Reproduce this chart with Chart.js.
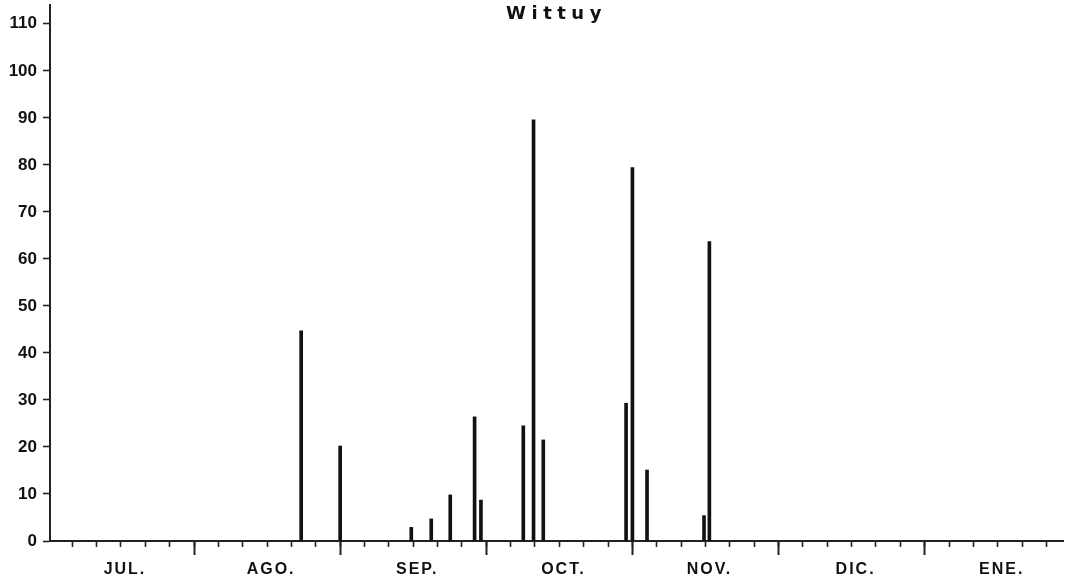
<!DOCTYPE html>
<html>
<head>
<meta charset="utf-8">
<script src="https://cdn.jsdelivr.net/npm/chart.js@4/dist/chart.umd.min.js"></script>
<style>
  html, body { margin: 0; padding: 0; background: #fff; }
  #wrap { width: 1074px; height: 580px; position: relative; }
</style>
</head>
<body>
<div id="wrap"><canvas id="c"></canvas></div>
<script>
// Day of season (from 1 July, 30-day month units) for each rain event
const eventDays = [52.0, 60.0, 74.6, 78.7, 82.6, 87.6, 88.9, 97.6, 99.7, 101.7, 118.7, 120.0, 123.0, 134.7, 135.8];
// Rainfall (mm)
const rainfall = [44.7, 20.2, 2.9, 4.7, 9.8, 26.4, 8.7, 24.5, 89.6, 21.5, 29.3, 79.4, 15.1, 5.4, 63.7];
// Month labels
const monthLabels = ['JUL.', 'AGO.', 'SEP.', 'OCT.', 'NOV.', 'DIC.', 'ENE.'];
const yTickValues = [0, 10, 20, 30, 40, 50, 60, 70, 80, 90, 100, 110];
const chartTitle = 'Wittuy';

const points = eventDays.map((d, i) => ({ x: d, y: rainfall[i] }));

const spacingPlugin = {
  id: 'spacing',
  beforeDraw(chart) {
    chart.ctx.letterSpacing = '0px';
    const sx = chart.scales.x;
    if (sx && !sx._spaced) {
      const orig = sx.drawLabels;
      sx.drawLabels = function (a) {
        this.ctx.save();
        this.ctx.letterSpacing = '2px';
        this.ctx.translate(4, 0);
        orig.call(this, a);
        this.ctx.restore();
      };
      sx._spaced = true;
    }
    const tb = chart.titleBlock;
    if (tb && !tb._spaced) {
      const origT = tb.draw;
      tb.draw = function (a) {
        this.ctx.save();
        this.ctx.letterSpacing = '5.5px';
        origT.call(this, a);
        this.ctx.restore();
      };
      tb._spaced = true;
    }
  }
};

const X_MIN = 0.43, X_MAX = 208.4;

new Chart(document.getElementById('c'), {
  type: 'bar',
  data: {
    datasets: [{
      data: points,
      backgroundColor: '#111',
      borderWidth: 0,
      barThickness: 3
    }]
  },
  plugins: [spacingPlugin],
  options: {
    responsive: true,
    maintainAspectRatio: false,
    animation: false,
    layout: { padding: { left: 0, right: 11, top: 0, bottom: 0 } },
    plugins: {
      legend: { display: false },
      tooltip: { enabled: false },
      title: {
        display: true,
        text: chartTitle,
        fullSize: false,
        color: '#111',
        font: { family: 'DejaVu Sans', size: 18, weight: 'bold', lineHeight: 1.2 },
        padding: { top: 4, bottom: -20.6 }
      }
    },
    scales: {
      x: {
        type: 'linear',
        min: X_MIN,
        max: X_MAX,
        offset: false,
        afterBuildTicks: (s) => {
          const t = [];
          for (let v = 5; v <= 205; v += 5) t.push({ value: v });
          s.ticks = t;
        },
        afterFit: (s) => { s.height = 39; s.paddingLeft = 0; s.paddingRight = 0; },
        grid: {
          drawOnChartArea: false,
          offset: false,
          tickLength: 6,
          tickWidth: 1.6,
          tickColor: '#222'
        },
        border: { display: true, color: '#222', width: 2 },
        ticks: {
          autoSkip: false,
          maxRotation: 0,
          padding: 13,
          color: '#111',
          font: { family: 'Liberation Sans', size: 16, weight: 'bold' },
          callback: (v) => (v % 30 === 15 ? monthLabels[(v - 15) / 30] : '')
        }
      },
      x2: {
        type: 'linear',
        position: { y: 0 },
        min: X_MIN,
        max: X_MAX,
        offset: false,
        afterBuildTicks: (s) => {
          const t = [];
          for (let v = 30; v <= 180; v += 30) t.push({ value: v });
          s.ticks = t;
        },
        grid: {
          drawOnChartArea: false,
          offset: false,
          tickLength: 14,
          tickWidth: 2,
          tickColor: '#222'
        },
        border: { display: false },
        ticks: { display: false }
      },
      y: {
        min: 0,
        max: 114,
        afterBuildTicks: (s) => { s.ticks = yTickValues.map(v => ({ value: v })); },
        afterFit: (s) => { s.width = 50; s.paddingTop = 0; s.paddingBottom = 0; },
        grid: {
          drawOnChartArea: false,
          tickLength: 7,
          tickWidth: 1.6,
          tickColor: '#222'
        },
        border: { display: true, color: '#222', width: 2 },
        ticks: {
          padding: 6,
          color: '#111',
          font: { family: 'Liberation Sans', size: 17, weight: 'bold' }
        }
      }
    }
  }
});
</script>
</body>
</html>
